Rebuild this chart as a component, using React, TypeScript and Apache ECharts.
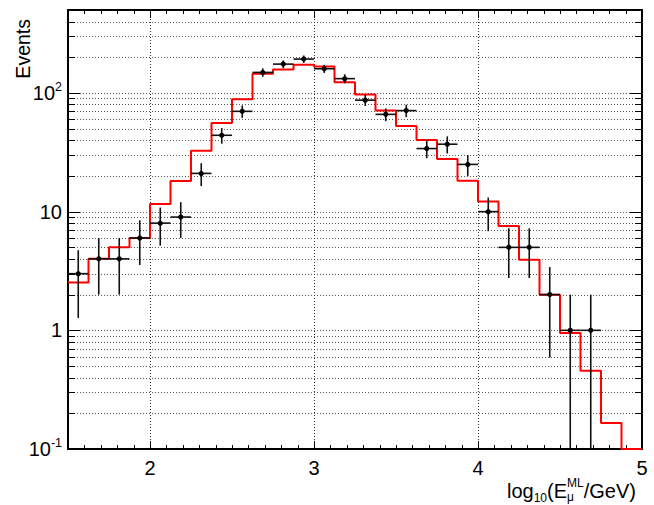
import React, { useEffect, useRef } from 'react';
import * as echarts from 'echarts';

// ---- data ----
const binEdges = [1.5, 1.625, 1.75, 1.875, 2.0, 2.125, 2.25, 2.375, 2.5, 2.625, 2.75, 2.875, 3.0, 3.125, 3.25, 3.375, 3.5, 3.625, 3.75, 3.875, 4.0, 4.125, 4.25, 4.375, 4.5, 4.625, 4.75, 4.875, 5.0];
// simulation histogram (red), one value per bin; last bin is empty (drawn at the axis floor 0.1)
const mcValues = [2.53, 4.0, 5.0, 6.0, 11.6, 18.1, 32.6, 55.9, 88.4, 145, 158, 173, 167, 123, 97, 71, 52.7, 40.2, 27.7, 18.2, 12.2, 7.56, 3.94, 1.99, 0.95, 0.456, 0.166, 0.1];
// observed events (black points), first 26 bins
const dataCounts = [3, 4, 4, 6, 8, 9, 21, 44, 70, 149, 175, 193, 160, 132, 87, 66, 71, 34, 37, 25, 10, 5, 5, 2, 1, 1];
const dataErrors = [1.73, 2, 2, 2.45, 2.83, 3, 4.58, 6.63, 8.37, 12.2, 13.2, 13.9, 12.6, 11.5, 9.33, 8.12, 8.43, 5.83, 6.08, 5, 3.16, 2.24, 2.24, 1.41, 1, 1];

const xTickValues = [2, 3, 4, 5];
const xTickLabels = ['2', '3', '4', '5'];
const yTickValues = [0.1, 1, 10, 100];
const yTickLabels = ['{m|10}{s|-1}', '{m|1}', '{m|10}', '{m|10}{s|2}'];

const X_MIN = 1.5;
const X_MAX = 5;
const Y_MIN = 0.1;
const Y_MAX = 500;
const FONT = '"Liberation Sans", Arial, Helvetica, sans-serif';

// grid / tick positions (axis decoration)
const yGridValues: number[] = [];
[0.1, 1, 10, 100].forEach((d) => {
  for (let k = 1; k <= 9; k++) {
    const v = +(d * k).toPrecision(3);
    if (v > Y_MIN && v < Y_MAX) yGridValues.push(v);
  }
});
const xTickPositions: number[] = [];
for (let i = 16; i <= 49; i++) xTickPositions.push(i / 10);

const crisp = (v: number) => Math.round(v) + 0.5;

export default function App() {
  const ref = useRef<HTMLDivElement>(null);
  useEffect(() => {
    if (!ref.current) return;
    const chart = echarts.init(ref.current, undefined, { renderer: 'svg' });

    const stepData = binEdges.map((e, i) => [e, i < mcValues.length ? mcValues[i] : mcValues[mcValues.length - 1]]);
    const pointData = dataCounts.map((c, i) => [
      (binEdges[i] + binEdges[i + 1]) / 2,
      c,
      dataErrors[i],
      (binEdges[i + 1] - binEdges[i]) / 2,
    ]);

    const option: any = {
      animation: false,
      textStyle: { fontFamily: FONT },
      grid: {
        left: 68,
        right: 12,
        top: 10,
        bottom: 56,
        show: true,
        borderColor: '#000',
        borderWidth: 2,
        backgroundColor: 'transparent',
      },
      xAxis: {
        type: 'value',
        min: X_MIN,
        max: X_MAX,
        interval: 0.5,
        axisLine: { show: false },
        axisTick: { show: false },
        splitLine: { show: false },
        axisLabel: {
          margin: 9,
          color: '#000',
          fontSize: 20,
          fontFamily: FONT,
          showMinLabel: false,
          formatter: (v: number) => {
            const i = xTickValues.findIndex((t) => Math.abs(t - v) < 1e-6);
            return i >= 0 ? xTickLabels[i] : '';
          },
        },
      },
      yAxis: {
        type: 'log',
        logBase: 10,
        min: Y_MIN,
        max: Y_MAX,
        axisLine: { show: false },
        axisTick: { show: false },
        splitLine: { show: false },
        axisLabel: {
          margin: 6,
          color: '#000',
          fontFamily: FONT,
          formatter: (v: number) => {
            const i = yTickValues.findIndex((t) => Math.abs(Math.log10(t) - Math.log10(v)) < 1e-6);
            return i >= 0 ? yTickLabels[i] : '';
          },
          rich: {
            m: { fontSize: 20, lineHeight: 25, color: '#000', fontFamily: FONT },
            s: { fontSize: 12.5, lineHeight: 12, verticalAlign: 'top', color: '#000', fontFamily: FONT },
          },
        },
      },
      graphic: [
        {
          type: 'text',
          x: 23,
          y: 19,
          rotation: Math.PI / 2,
          style: {
            text: 'Events',
            fill: '#000',
            font: `19.5px ${FONT}`,
            align: 'right',
            verticalAlign: 'middle',
          },
        },
        {
          type: 'text',
          x: 507,
          y: 477,
          style: {
            text: '{n|log}{b|10}{n|(E}{p|ML}{n|/GeV)}',
            align: 'left',
            verticalAlign: 'top',
            fill: '#000',
            rich: {
              n: { fontSize: 20, lineHeight: 27, fontFamily: FONT, color: '#000' },
              b: { fontSize: 12, lineHeight: 12, verticalAlign: 'bottom', fontFamily: FONT, color: '#000' },
              p: { fontSize: 12, lineHeight: 12, verticalAlign: 'top', fontFamily: FONT, color: '#000' },
            },
          },
        },
        {
          type: 'text',
          x: 567,
          y: 491,
          style: {
            text: 'μ',
            align: 'left',
            verticalAlign: 'top',
            fill: '#000',
            font: `12px ${FONT}`,
          },
        },
      ],
      series: [
        {
          type: 'custom',
          name: 'ygrid',
          silent: true,
          z: 1,
          data: yGridValues.map((v) => [X_MIN, v]),
          renderItem: (params: any, api: any) => {
            const v = api.value(1);
            const cs = params.coordSys;
            const y = crisp(api.coord([X_MIN, v])[1]);
            const lg = Math.log10(v);
            const major = Math.abs(lg - Math.round(lg)) < 1e-6;
            const len = major ? 12 : 7;
            const x0 = cs.x;
            const x1 = cs.x + cs.width;
            return {
              type: 'group',
              children: [
                { type: 'line', shape: { x1: x0, y1: y, x2: x1, y2: y }, style: { stroke: '#555', lineWidth: 1, lineDash: [1, 2] } },
                { type: 'line', shape: { x1: x0, y1: y, x2: x0 + len, y2: y }, style: { stroke: '#000', lineWidth: 1 } },
                { type: 'line', shape: { x1: x1 - len, y1: y, x2: x1, y2: y }, style: { stroke: '#000', lineWidth: 1 } },
              ],
            };
          },
        },
        {
          type: 'custom',
          name: 'xgrid',
          silent: true,
          z: 1,
          data: xTickPositions.map((v) => [v, Y_MIN]),
          renderItem: (params: any, api: any) => {
            const v = api.value(0);
            const cs = params.coordSys;
            const x = crisp(api.coord([v, Y_MIN])[0]);
            const major = Math.abs(v - Math.round(v)) < 1e-6;
            const len = major ? 8 : 4;
            const y0 = cs.y;
            const y1 = cs.y + cs.height;
            const children: any[] = [
              { type: 'line', shape: { x1: x, y1: y1, x2: x, y2: y1 - len }, style: { stroke: '#000', lineWidth: 1 } },
              { type: 'line', shape: { x1: x, y1: y0, x2: x, y2: y0 + len }, style: { stroke: '#000', lineWidth: 1 } },
            ];
            if (major) {
              children.unshift({ type: 'line', shape: { x1: x, y1: y0, x2: x, y2: y1 }, style: { stroke: '#333', lineWidth: 1, lineDash: [1, 2] } });
            }
            return { type: 'group', children };
          },
        },
        {
          type: 'line',
          name: 'simulation',
          step: 'end',
          symbol: 'none',
          z: 3,
          data: stepData,
          lineStyle: { color: '#ff0000', width: 2 },
        },
        {
          type: 'custom',
          name: 'data',
          z: 4,
          data: pointData,
          renderItem: (params: any, api: any) => {
            const xv = api.value(0);
            const v = api.value(1);
            const e = api.value(2);
            const hw = api.value(3);
            const cs = params.coordSys;
            const bottom = cs.y + cs.height;
            const c = api.coord([xv, v]);
            const hi = api.coord([xv, v + e])[1];
            const lo = v - e > 1e-6 ? Math.min(api.coord([xv, v - e])[1], bottom) : bottom;
            const l = api.coord([xv - hw, v])[0];
            const r = api.coord([xv + hw, v])[0];
            return {
              type: 'group',
              children: [
                { type: 'line', shape: { x1: c[0], y1: hi, x2: c[0], y2: lo }, style: { stroke: '#111', lineWidth: 1.6 } },
                { type: 'line', shape: { x1: l, y1: c[1], x2: r, y2: c[1] }, style: { stroke: '#111', lineWidth: 1.6 } },
                { type: 'circle', shape: { cx: c[0], cy: c[1], r: 2.6 }, style: { fill: '#000' } },
              ],
            };
          },
        },
      ],
    };
    chart.setOption(option);
    return () => chart.dispose();
  }, []);
  return (
    <div
      ref={ref}
      style={{ position: 'fixed', left: 0, top: 0, width: 654, height: 505, background: '#fff' }}
    />
  );
}
